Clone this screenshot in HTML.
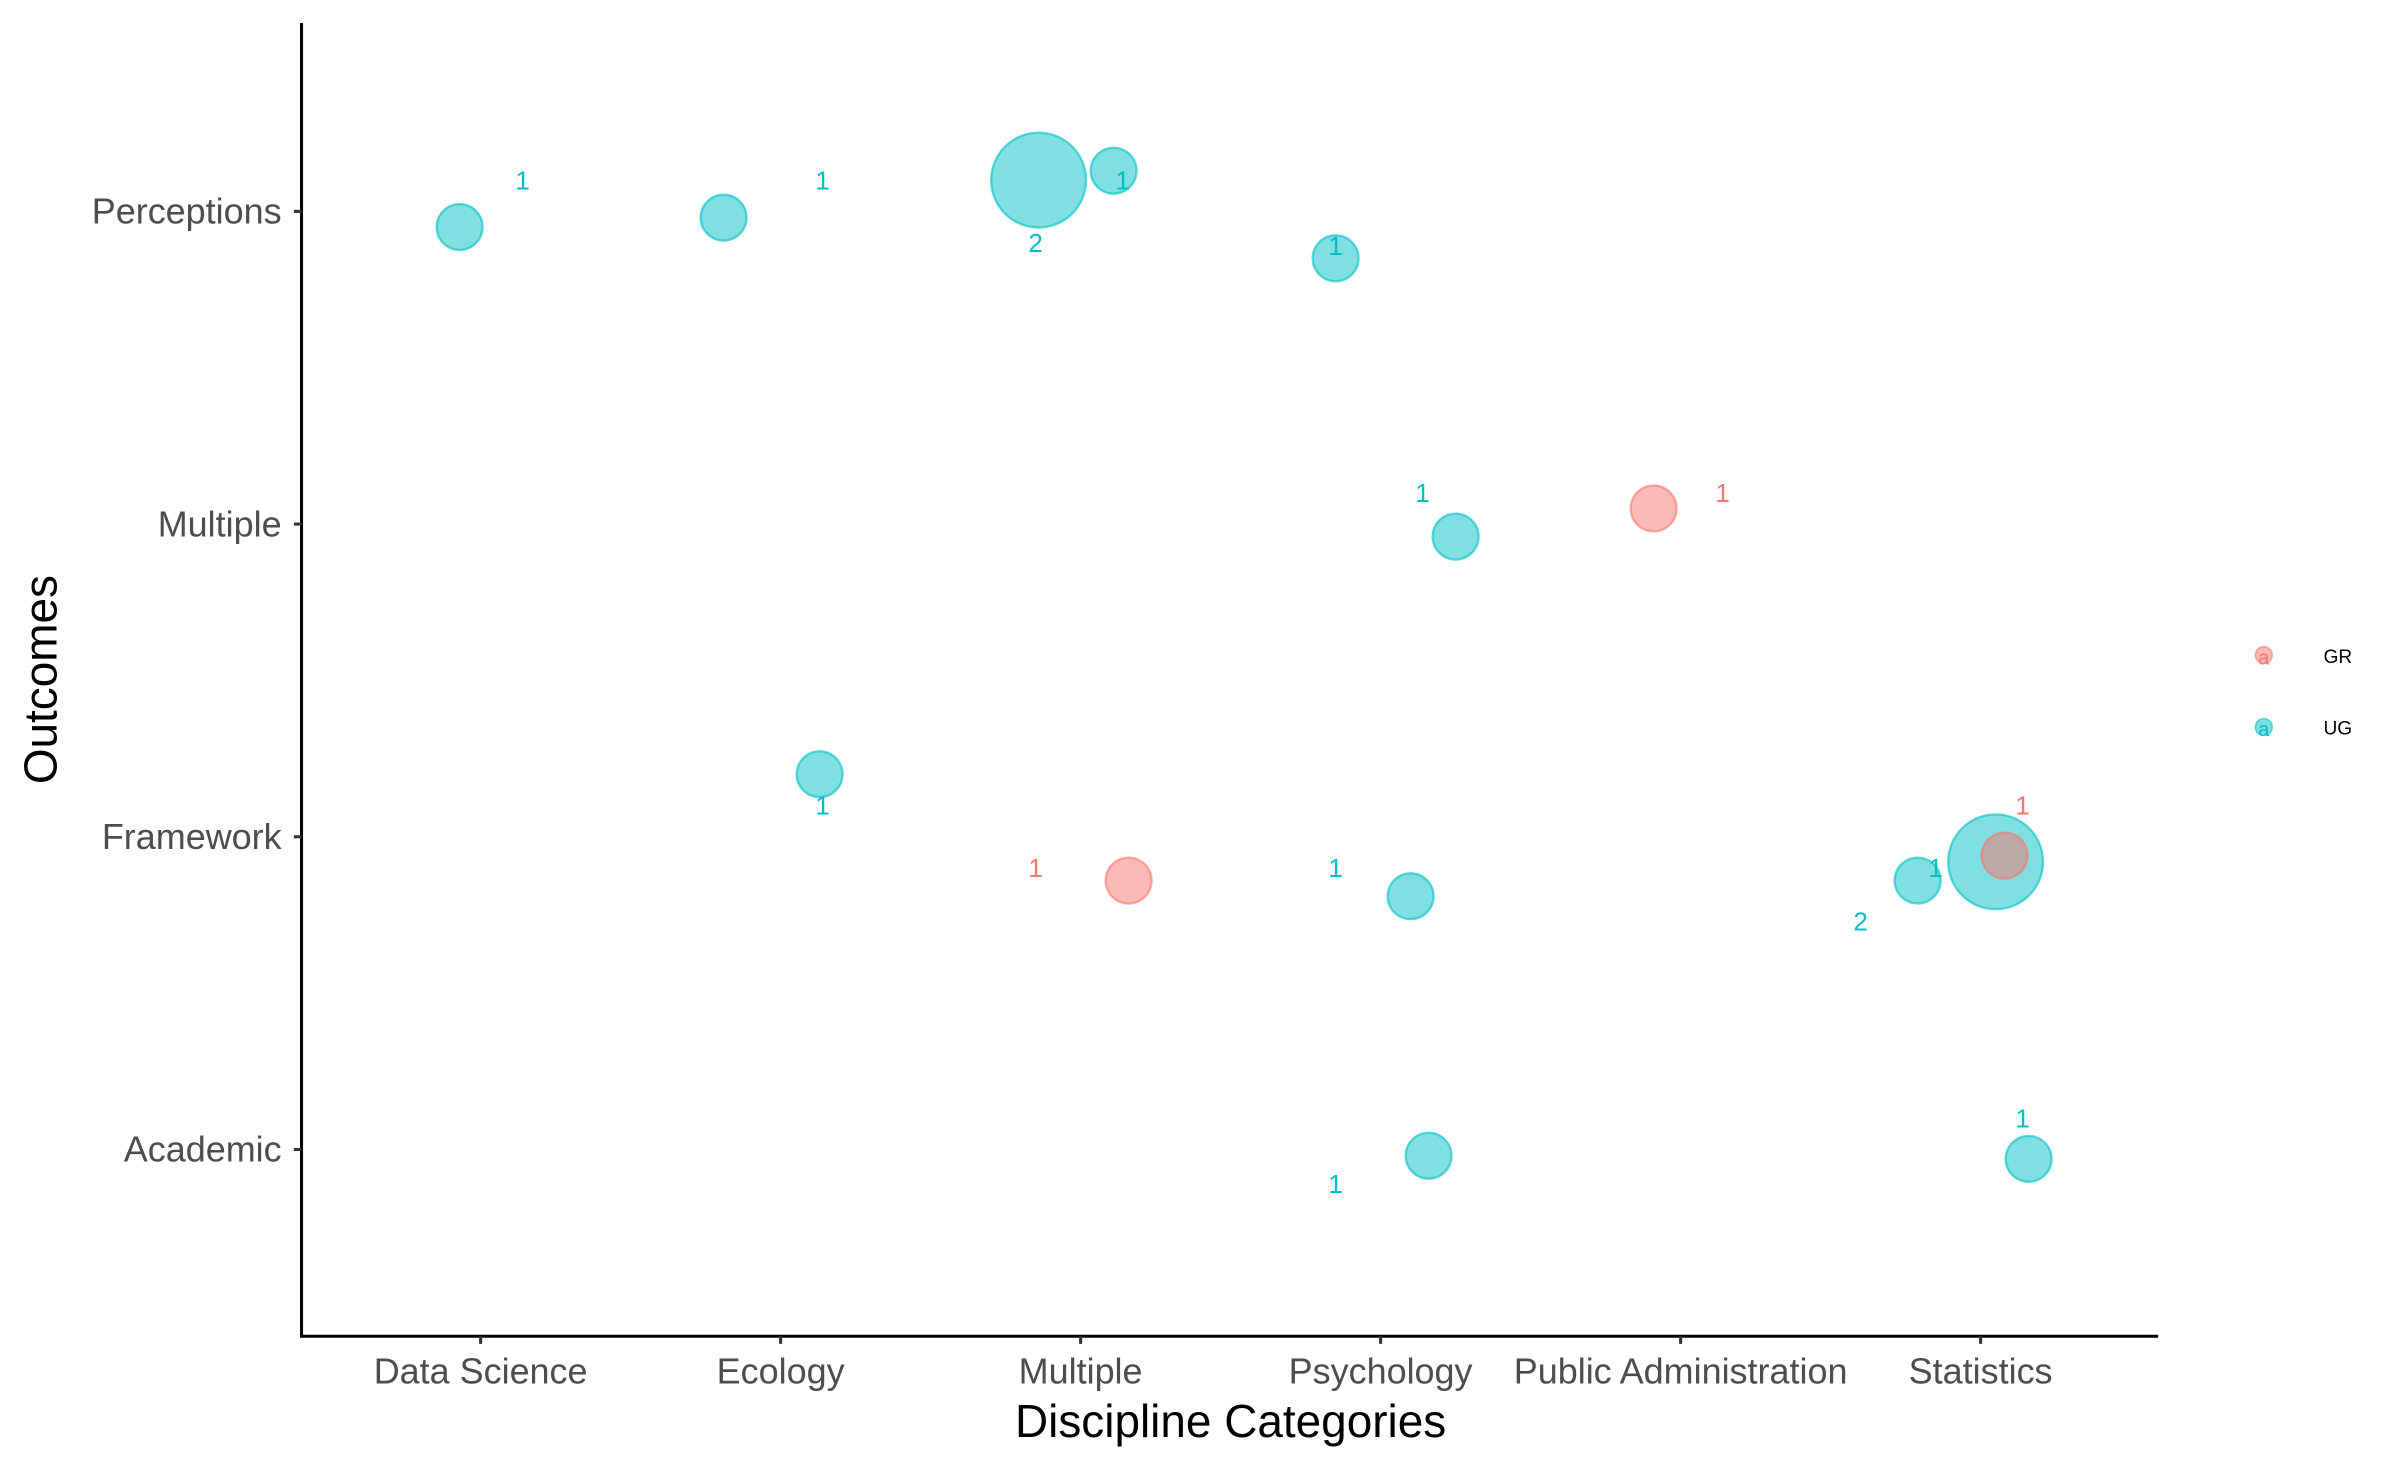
<!DOCTYPE html>
<html><head><meta charset="utf-8">
<style>
html,body{margin:0;padding:0;background:#fff;}
svg{display:block;font-family:"Liberation Sans",Arial,sans-serif;}
</style></head>
<body>
<svg id="chart" width="2400" height="1470" viewBox="0 0 1568 960.4" preserveAspectRatio="none" xmlns="http://www.w3.org/2000/svg">
<g id="axes"></g>
<g id="marks"></g>
<g id="labels"></g>
<g id="legend"></g>
</svg>
<script>
const categories = ["Data Science","Ecology","Multiple","Psychology","Public Administration","Statistics"];
const outcomes = ["Academic","Framework","Multiple","Perceptions"];
// points: category index, outcome index, jitter (data units), level, count
const ptCat   = [0,1,2,2,3,3,4,1,2,3,5,5,5,3,5];
const ptOut   = [3,3,3,3,3,2,2,1,1,1,1,1,1,0,0];
const ptJx    = [-0.07,-0.19,-0.14,0.11,-0.15,0.25,-0.09,0.13,0.16,0.10,-0.21,0.05,0.08,0.16,0.16];
const ptJy    = [-0.05,-0.02,0.10,0.13,-0.15,-0.04,0.05,0.20,-0.14,-0.19,-0.14,-0.08,-0.06,-0.02,-0.03];
const ptLevel = ["UG","UG","UG","UG","UG","UG","GR","UG","GR","UG","UG","UG","GR","UG","UG"];
const ptCount = [1,1,2,1,1,1,1,1,1,1,1,2,1,1,1];
// labels: category, outcome, jitter, level, text
const lbCat = [0,1,2,2,3,3,4,1,2,3,5,5,5,3,5];
const lbOut = [3,3,3,3,3,2,2,1,1,1,1,1,1,0,0];
const lbJx  = [0.14,0.14,-0.15,0.14,-0.15,0.14,0.14,0.14,-0.15,-0.15,-0.15,-0.40,0.14,-0.15,0.14];
const lbJy  = [0.10,0.10,-0.10,0.10,-0.11,0.10,0.10,0.10,-0.10,-0.10,-0.10,-0.27,0.10,-0.11,0.10];
const lbLevel = ["UG","UG","UG","UG","UG","UG","GR","UG","GR","UG","UG","UG","GR","UG","UG"];
const lbText  = ["1","1","2","1","1","1","1","1","1","1","1","2","1","1","1"];

const colors = {GR:"#F8766D", UG:"#00BFC4"};
const X0=197, X1=1410, Y0=873, Y1=15;
const xScale = v => 314 + v*196;
const yScale = v => 751 - v*204.3;
const rScale = c => c===1 ? 15 : 31;
const NS="http://www.w3.org/2000/svg";
function mk(tag, attrs, parent){const e=document.createElementNS(NS,tag);for(const k in attrs)e.setAttribute(k,attrs[k]);parent.appendChild(e);return e;}

const axes=document.getElementById('axes');
let e=mk('line',{x1:X0,y1:Y1,x2:X0,y2:Y0,stroke:'#000','stroke-width':2},axes);


e=mk('line',{x1:X0-1,y1:Y0,x2:X1,y2:Y0,stroke:'#000','stroke-width':2},axes);


categories.forEach((c,i)=>{
  const x=xScale(i);
  const t=mk('line',{x1:x,y1:Y0,x2:x,y2:Y0+5,stroke:'#333','stroke-width':2},axes);
  
  
  const l=mk('text',{x:x,y:904,'text-anchor':'middle','font-size':23.5,fill:'#4d4d4d'},axes);
  l.textContent=c;
  
  
});
outcomes.forEach((o,i)=>{
  const y=yScale(i);
  const t=mk('line',{x1:X0-5,y1:y,x2:X0,y2:y,stroke:'#333','stroke-width':2},axes);
  
  
  const l=mk('text',{x:184,y:y+8,'text-anchor':'end','font-size':23.5,fill:'#4d4d4d'},axes);
  l.textContent=o;
  
  
});
e=mk('text',{x:804,y:939,'text-anchor':'middle','font-size':30,fill:'#000'},axes);
e.textContent='Discipline Categories';


e=mk('text',{x:0,y:0,'text-anchor':'middle','font-size':30,fill:'#000',transform:'translate(37,444) rotate(-90)'},axes);
e.textContent='Outcomes';



const marks=document.getElementById('marks');
ptCat.forEach((c,i)=>{
  const col=colors[ptLevel[i]];
  const p=mk('circle',{cx:xScale(c+ptJx[i]),cy:yScale(ptOut[i]+ptJy[i]),r:rScale(ptCount[i]),fill:col,'fill-opacity':0.5,stroke:col,'stroke-opacity':0.6,'stroke-width':1.5},marks);
  
  
});
const labels=document.getElementById('labels');
lbCat.forEach((c,i)=>{
  const t=mk('text',{x:xScale(c+lbJx[i]),y:yScale(lbOut[i]+lbJy[i])+6,'text-anchor':'middle','font-size':17,fill:colors[lbLevel[i]]},labels);
  t.textContent=lbText[i];
  
  
});
const legend=document.getElementById('legend');
[["GR",428],["UG",475]].forEach(([k,y])=>{
  const c=mk('circle',{cx:1479,cy:y,r:5.5,fill:colors[k],'fill-opacity':0.5,stroke:colors[k],'stroke-opacity':0.6},legend);
  
  
  const a=mk('text',{x:1479,y:y+6,'text-anchor':'middle','font-size':13,fill:colors[k]},legend);
  a.textContent='a';
  
  
  const l=mk('text',{x:1518,y:y+5,'font-size':12.5,fill:'#000'},legend);
  l.textContent=k;
  
  
});
</script>
</body></html>
